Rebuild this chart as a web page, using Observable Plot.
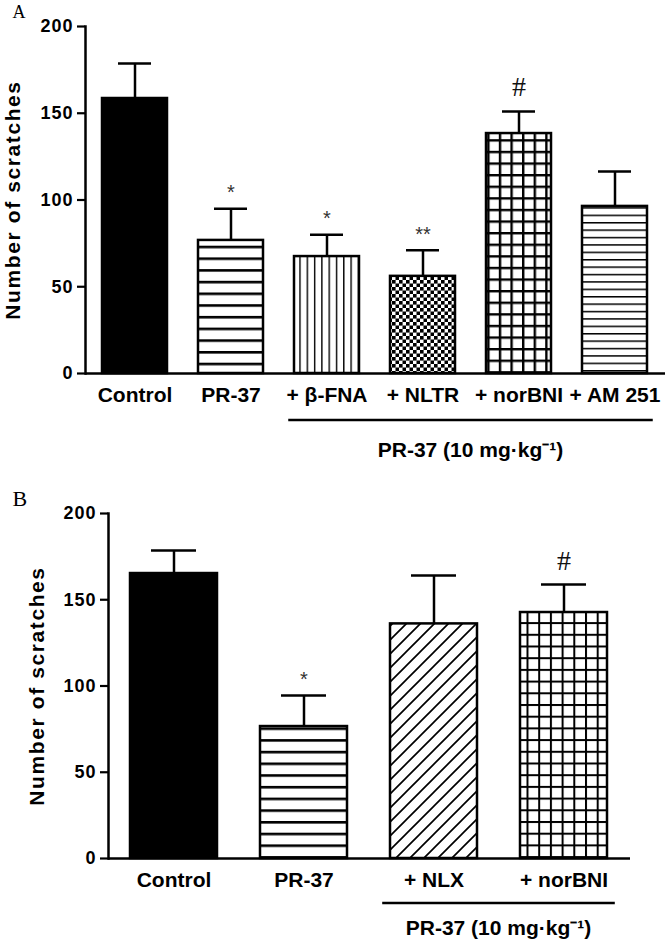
<!DOCTYPE html>
<html><head><meta charset="utf-8">
<script src="https://cdn.jsdelivr.net/npm/d3@7"></script>
<script src="https://cdn.jsdelivr.net/npm/@observablehq/plot@0.6"></script>
<style>
body{margin:0;background:#fff;width:670px;height:944px;overflow:hidden;font-family:"Liberation Sans",Arial,sans-serif}
.panel svg{display:block}
[aria-label="y-axis tick label"]{font-weight:bold;font-size:18px;letter-spacing:1px}
.ytitle{letter-spacing:1.6px}
</style></head><body>
<svg width="0" height="0" style="position:absolute">
<defs>
<pattern id="hl" patternUnits="userSpaceOnUse" width="12" height="11.7"><rect width="12" height="11.7" fill="#fff"/><rect width="12" height="2.6" fill="#000"/></pattern>
<pattern id="vl" patternUnits="userSpaceOnUse" width="7.3" height="10"><rect width="7.3" height="10" fill="#fff"/><rect width="1.4" height="10" fill="#000"/></pattern>
<pattern id="chk" patternUnits="userSpaceOnUse" width="7" height="7"><rect width="7" height="7" fill="#fff"/><rect width="3.6" height="3.6" fill="#000"/><rect x="3.5" y="3.5" width="3.6" height="3.6" fill="#000"/></pattern>
<pattern id="gridA" patternUnits="userSpaceOnUse" width="11.6" height="11.6"><rect width="11.6" height="11.6" fill="#fff"/><rect width="2.4" height="11.6" fill="#000"/><rect width="11.6" height="2.4" fill="#000"/></pattern>
<pattern id="hlThin" patternUnits="userSpaceOnUse" width="10" height="7.4"><rect width="10" height="7.4" fill="#fff"/><rect width="10" height="1.5" fill="#000"/></pattern>
<pattern id="diag" patternUnits="userSpaceOnUse" width="14" height="14"><rect width="14" height="14" fill="#fff"/><path d="M-2,2 L2,-2 M0,14 L14,0 M12,16 L16,12" stroke="#000" stroke-width="1.7"/></pattern>
<pattern id="gridB" patternUnits="userSpaceOnUse" width="11.7" height="11.7"><rect width="11.7" height="11.7" fill="#fff"/><rect width="2" height="11.7" fill="#000"/><rect width="11.7" height="2" fill="#000"/></pattern>
</defs></svg>
<div id="a" class="panel"></div>
<div id="b" class="panel"></div>
<script>
// ---- Panel A data ----
const catsA = ["Control", "PR-37", "+ β-FNA", "+ NLTR", "+ norBNI", "+ AM 251"];
const meansA = [158.5, 76.7, 67.4, 56, 138.3, 96.3];
const semsA = [20.2, 18.3, 12.6, 15, 12.7, 20.1];
const sigA = ["", "*", "*", "**", "#", ""];
const bracketA = ["+ β-FNA", "+ NLTR", "+ norBNI", "+ AM 251"];

// ---- Panel B data ----
const catsB = ["Control", "PR-37", "+ NLX", "+ norBNI"];
const meansB = [165.2, 76.5, 136, 142.6];
const semsB = [13.3, 18, 28, 16.2];
const sigB = ["", "*", "", "#"];
const bracketB = ["+ NLX", "+ norBNI"];

const yTicks = [0, 50, 100, 150, 200];
const yTitle = "Number of scratches";
const bracketLabel = "PR-37 (10 mg·kg⁻¹)";

// styles (fill patterns) kept separate from the data
const fillsA = ["#000", "url(#hl)", "url(#vl)", "url(#chk)", "url(#gridA)", "url(#hlThin)"];
const fillsB = ["#000", "url(#hl)", "url(#diag)", "url(#gridB)"];

function panel(cats, means, sems, sigs, fills, bracket, letter, L) {
  const data = cats.map((c, i) => ({cat: c, mean: means[i], sem: sems[i], top: means[i] + sems[i], sig: sigs[i], fill: fills[i]}));
  const svg = Plot.plot({
    width: 670, height: L.height,
    marginTop: L.mt, marginBottom: L.mb, marginLeft: L.ml, marginRight: L.mr,
    style: {fontFamily: '"Liberation Sans", Arial, sans-serif', color: "#000", background: "#fff", overflow: "visible"},
    x: {domain: cats, paddingInner: L.pi, paddingOuter: L.po},
    y: {domain: [0, 200]},
    color: {type: "identity"},
    marks: [
      Plot.barY(data, {x: "cat", y: "mean", fill: "fill", stroke: "#000", strokeWidth: 2.5}),
      Plot.ruleX(data, {x: "cat", y1: "mean", y2: "top", stroke: "#000", strokeWidth: 2.5}),
      Plot.tickY(data, {x: "cat", y: "top", stroke: "#000", strokeWidth: 2.5, insetLeft: L.cap, insetRight: L.cap}),
      Plot.ruleY([0], {stroke: "#000", strokeWidth: 2.5}),
      Plot.frame({anchor: "left", stroke: "#000", strokeWidth: 2.5}),
      Plot.axisY({ticks: yTicks, tickSize: 8, tickPadding: 4, fontSize: 18, fontWeight: "bold", strokeWidth: 2.2, label: null}),
      Plot.axisX({tickSize: 0, tickPadding: 14, fontSize: 21, fontWeight: "bold", label: null}),
      Plot.text(data.filter(d => d.sig.startsWith("*")), {x: "cat", y: "top", text: "sig", dy: -16, fontSize: 20, fill: "#333"}),
      Plot.text(data.filter(d => d.sig === "#"), {x: "cat", y: "top", text: "sig", dy: -24, fontSize: 28, fontFamily: '"Liberation Serif", serif', fill: "#111"}),
      Plot.text([yTitle], {text: d => d, frameAnchor: "left", textAnchor: "middle", lineAnchor: "middle", rotate: -90, dx: L.titleDx, fontSize: 21, fontWeight: "bold", className: "ytitle"}),
      Plot.text([letter], {text: d => d, frameAnchor: "top-left", textAnchor: "start", lineAnchor: "top", dx: L.letterDx, dy: L.letterDy, fontSize: L.letterSize, fontFamily: '"Liberation Serif", serif'})
    ]
  });
  // bracket under the grouped categories, placed with the plot's own scales
  const xs = svg.scale("x"), ys = svg.scale("y");
  const step = xs.step || xs.bandwidth / (1 - L.pi);
  const x1 = xs.apply(bracket[0]) - step * 0.06;
  const x2 = xs.apply(bracket[bracket.length - 1]) + xs.bandwidth + step * 0.06;
  const yb = ys.apply(0) + L.bracketGap;
  const g = d3.select(svg).append("g");
  g.append("line").attr("x1", x1).attr("x2", x2).attr("y1", yb).attr("y2", yb).attr("stroke", "#000").attr("stroke-width", 2.5);
  g.append("text").attr("x", (x1 + x2) / 2).attr("y", yb + L.labelGap).attr("text-anchor", "middle")
    .attr("font-size", 21).attr("font-weight", "bold").attr("fill", "#000").text(bracketLabel);
  return svg;
}

document.getElementById("a").append(panel(catsA, meansA, semsA, sigA, fillsA, bracketA, "A", {
  height: 470, mt: 26, mb: 97, ml: 85, mr: 5, pi: 0.32, po: 0.155, cap: 16,
  titleDx: -72, letterDx: -73, letterDy: -21, letterSize: 18, bracketGap: 47, labelGap: 37
}));
document.getElementById("b").append(panel(catsB, meansB, semsB, sigB, fillsB, bracketB, "B", {
  height: 474, mt: 43, mb: 86, ml: 108, mr: 40, pi: 0.327, po: 0.165, cap: 21,
  titleDx: -71, letterDx: -96, letterDy: -23, letterSize: 22, bracketGap: 45, labelGap: 32
}));
</script>
</body></html>
